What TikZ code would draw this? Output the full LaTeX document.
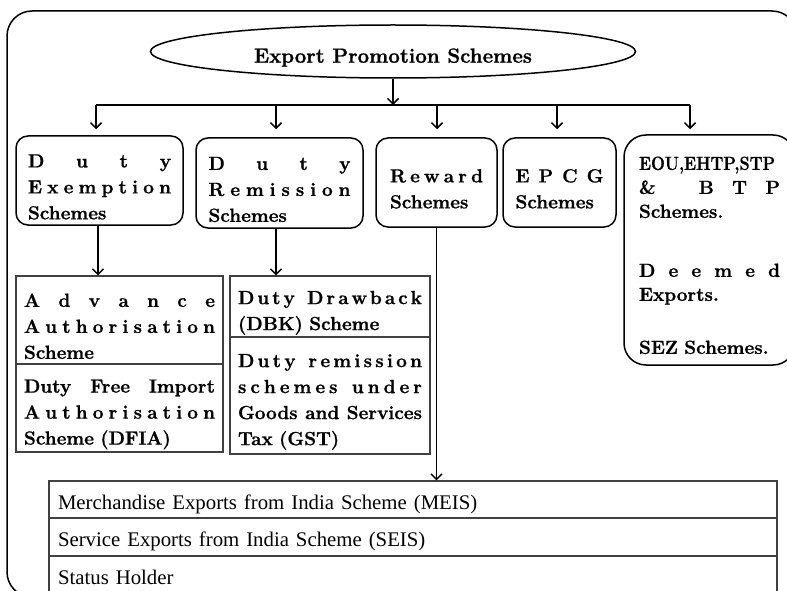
\documentclass[tikz,border=0pt]{standalone}
\usepackage{graphicx}
\usepackage{fontspec}
\newfontfamily\tabfont{Liberation Serif}
\newfontfamily\bxfont{lmroman12-bold}[Extension=.otf, FakeBold=1]
\usetikzlibrary{shapes.geometric,arrows.meta}
\def\LSend{LSEND}
\def\LSfirst#1{#1\LSloop}
\def\LSloop#1{\ifx#1\LSend\else\hfil#1\expandafter\LSloop\fi}
\newcommand\lsline[2][0pt]{\par\hbox to\hsize{\rule{0pt}{#1}\LSfirst#2\LSend}}
\newcommand\nlline[2][0pt]{\par\hbox to\hsize{\rule{0pt}{#1}#2\hfil}}
\newcommand\wsline[2][0pt]{\par\hbox to\hsize{\rule{0pt}{#1}\spaceskip=0.383em plus 1fil minus 0.15em\relax #2}}
\begin{document}
\begin{tikzpicture}[x=1pt,y=-1pt,
  every node/.style={inner sep=0pt, text=black},
  frame/.style={draw, line width=1.5pt, rounded corners=25pt},
  box/.style={draw, line width=1.5pt, rounded corners=12pt, font=\bxfont\fontsize{19}{26}\selectfont},
  cell/.style={draw=black!75, line width=1.1pt, font=\bxfont\fontsize{19}{26}\selectfont},
  mrow/.style={draw=black!75, line width=1.1pt, minimum width=728pt, text width=710pt, font=\tabfont\fontsize{20.8}{24}\selectfont},
  conn/.style={line width=1.5pt},
  arr/.style={line width=1.5pt, -{Straight Barb[length=5.5pt,width=11pt]}}]
\useasboundingbox (0,0) rectangle (787,591);
\clip (0,0) rectangle (787,591);
\fill[white] (0,0) rectangle (787,591);
\draw[frame] (7,11) rectangle (797,597);

\node[draw, ellipse, line width=1.5pt, minimum width=485pt, minimum height=53pt,
      text height=26.4pt, text depth=4pt, font=\bxfont\fontsize{20.5}{24}\selectfont]
      (root) at (393,51.5) {Export Promotion Schemes};

\node[box, minimum width=167pt, minimum height=89pt, text width=143pt] (b1) at (99.5,180.5)
  {\lsline[21pt]{Duty}\lsline{Exemption}\nlline{Schemes}};
\node[box, minimum width=167pt, minimum height=90pt, text width=142pt] (b2) at (279.5,183)
  {\lsline[17.7pt]{Duty}\lsline{Remission}\nlline{Schemes}};
\node[box, minimum width=121pt, minimum height=89pt, text width=93pt] (b3) at (436.5,182.5)
  {\lsline[17pt]{Reward}\nlline{Schemes}};
\node[box, minimum width=113pt, minimum height=89pt, text width=88pt] (b4) at (559.5,182.5)
  {\lsline[17pt]{EPCG}\nlline{Schemes}};
\node[box, rounded corners=22pt, minimum width=171pt, minimum height=230pt, text width=141pt,
      font=\bxfont\fontsize{19}{24}\selectfont] (b5) at (709.5,250)
  {\nlline[16pt]{\scalebox{0.86}[1]{EOU,EHTP,STP}}\lsline{\&~BTP}\nlline{Schemes.}
   \vskip35pt\lsline{Deemed}\nlline{Exports.}\vskip29pt\nlline{SEZ Schemes.}};

\node[cell, minimum width=207pt, minimum height=88pt, text width=191pt] (r11) at (119.5,320)
  {\lsline[15pt]{Advance}\lsline{Authorisation}\nlline{Scheme}};
\node[cell, minimum width=207pt, minimum height=88pt, text width=191pt] (r12) at (119.5,408)
  {\wsline[23.75pt]{Duty Free Import}\lsline{Authorisation}\nlline{Scheme (DFIA)}};
\node[cell, minimum width=200pt, minimum height=61pt, text width=184pt] (r21) at (330,306.5)
  {\lsline[24.75pt]{Duty~Drawback}\nlline{(DBK) Scheme}};
\node[cell, minimum width=200pt, minimum height=117pt, text width=184pt] (r22) at (330,395.5)
  {\lsline[21.75pt]{Duty~remission}\lsline{schemes~under}\wsline{Goods and Services}\nlline{Tax (GST)}};

\node[mrow, minimum height=37pt] (m1) at (413,499.5)
  {\nlline{\rule[-5pt]{0pt}{29pt}Merchandise Exports from India Scheme (MEIS)}};
\node[mrow, minimum height=38pt] (m2) at (413,537)
  {\nlline{\rule[-5pt]{0pt}{26pt}Service Exports from India Scheme (SEIS)}};
\node[mrow, minimum height=38pt] (m3) at (413,575)
  {\nlline{\rule[-5pt]{0pt}{26.6pt}Status Holder}};

\coordinate (bus) at (393,105);
\coordinate (t1) at (96,105);
\coordinate (t2) at (276,105);
\coordinate (t3) at (437,105);
\coordinate (t4) at (557,105);
\coordinate (t5) at (690,105);

\draw[arr] (root.south) -- (bus);
\draw[conn] (t1) -- (t5);
\draw[arr, shorten >=6pt] (t1) -- (t1 |- b1.north);
\draw[arr, shorten >=8pt] (t2) -- (t2 |- b2.north);
\draw[arr, shorten >=8pt] (t3) -- (t3 |- b3.north);
\draw[arr, shorten >=8pt] (t4) -- (t4 |- b4.north);
\draw[arr, shorten >=5pt] (t5) -- (t5 |- b5.north);

\draw[arr] ([xshift=-1.5pt]b1.south) -- ([xshift=-1.5pt]b1.south |- r11.north);
\draw[arr] ([xshift=-3.5pt]b2.south) -- ([xshift=-3.5pt]b2.south |- r21.north);
\draw[arr] (b3.south) -- (b3.south |- m1.north);
\end{tikzpicture}
\end{document}
